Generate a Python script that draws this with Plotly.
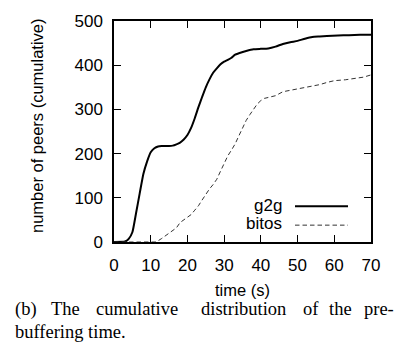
import plotly.graph_objects as go

# ---- data ----
g2g_t = [0, 3, 4, 5, 6, 7, 8, 9, 10, 11, 12, 13, 14, 15, 16, 17, 18, 19, 20, 21, 22, 23, 24, 25,
         26, 27, 28, 29, 30, 31, 32, 33, 34, 36, 38, 40, 42, 44, 46, 48, 50, 52, 54, 56, 58, 61,
         64, 67, 70]
g2g_v = [0, 1, 7, 22, 65, 110, 154, 182, 203, 212, 216, 217, 217, 217, 218, 221, 225, 232, 242,
         258, 280, 305, 328, 350, 368, 383, 393, 402, 408, 412, 417, 424, 427, 432, 436, 437, 438,
         442, 448, 452, 455, 460, 464, 465, 466, 467, 468, 469, 469]

bitos_t = [0, 11.5, 13, 15, 17, 18, 20, 21, 22, 23, 24, 25, 26, 27, 28, 29, 30, 31, 32, 33, 34,
           35, 36, 37, 38, 39, 40, 41, 42, 44, 46, 48, 50, 53, 56, 58, 60, 63, 65, 68, 70]
bitos_v = [0, 0, 8, 20, 32, 44, 55, 62, 72, 82, 95, 108, 120, 130, 142, 160, 178, 195, 208, 222,
           240, 258, 275, 288, 300, 312, 320, 325, 327, 331, 340, 343, 347, 351, 356, 361, 365,
           367, 369, 373, 378]

x_ticks = [0, 10, 20, 30, 40, 50, 60, 70]
y_ticks = [0, 100, 200, 300, 400, 500]
series_names = ["g2g", "bitos"]
x_title = "time (s)"
y_title = "number of peers (cumulative)"
caption_line1 = ["(b)", "The", "cumulative", "distribution", "of", "the", "pre-"]
caption_line2 = "buffering time."

# ---- layout geometry (pixels) ----
W, H = 411, 345
L, R, T, B = 114, 371, 19, 242
def px(x):
    return (x - L) / (R - L)
def py(y):
    return (B - y) / (B - T)

SANS = "Liberation Sans, Arial, sans-serif"
SERIF = "Liberation Serif, Times New Roman, serif"

fig = go.Figure()
fig.add_trace(go.Scatter(x=g2g_t, y=g2g_v, mode="lines", name=series_names[0],
                         line=dict(color="black", width=2, shape="spline", smoothing=0.5),
                         showlegend=False))
fig.add_trace(go.Scatter(x=bitos_t, y=bitos_v, mode="lines", name=series_names[1],
                         line=dict(color="#333333", width=1, dash="4.5px,3px"),
                         showlegend=False))

axis_common = dict(showgrid=False, zeroline=False, showline=True, linecolor="black",
                   linewidth=1.5, mirror="ticks", ticks="inside", ticklen=7, tickwidth=1.2,
                   tickcolor="black", tickfont=dict(family=SANS, size=17, color="black"))
fig.update_xaxes(range=[0, 70], tickvals=x_ticks, ticklabelstandoff=7, **axis_common)
fig.update_yaxes(range=[0, 500], tickvals=y_ticks, ticklabelstandoff=6, **axis_common)

ann = []
# axis titles
ann.append(dict(text=x_title, x=px(242), y=py(290), xref="paper", yref="paper",
                showarrow=False, font=dict(family=SANS, size=16.5, color="black"),
                xanchor="center", yanchor="middle"))
ann.append(dict(text=y_title, x=px(37), y=py(125), xref="paper", yref="paper",
                showarrow=False, textangle=-90, font=dict(family=SANS, size=16.5, color="black"),
                xanchor="center", yanchor="middle"))
# legend text
ann.append(dict(text=series_names[0], x=px(284), y=py(205), xref="paper", yref="paper",
                showarrow=False, font=dict(family=SANS, size=17, color="black"),
                xanchor="right", yanchor="middle"))
ann.append(dict(text=series_names[1], x=px(284), y=py(223), xref="paper", yref="paper",
                showarrow=False, font=dict(family=SANS, size=17, color="black"),
                xanchor="right", yanchor="middle"))
# caption, first line justified word by word
word_x = [13, 49, 94, 199, 301, 327, 362]
for w, xx in zip(caption_line1, word_x):
    ann.append(dict(text=w, x=px(xx), y=py(310), xref="paper", yref="paper",
                    showarrow=False, font=dict(family=SERIF, size=18.5, color="black"),
                    xanchor="left", yanchor="middle"))
ann.append(dict(text=caption_line2, x=px(13), y=py(333), xref="paper", yref="paper",
                showarrow=False, font=dict(family=SERIF, size=18.5, color="black"),
                xanchor="left", yanchor="middle"))

shapes = [
    dict(type="line", xref="paper", yref="paper", x0=px(295), x1=px(348), y0=py(206), y1=py(206),
         line=dict(color="black", width=2)),
    dict(type="line", xref="paper", yref="paper", x0=px(295), x1=px(348), y0=py(225), y1=py(225),
         line=dict(color="#333333", width=1, dash="4.5px,3px")),
]

fig.update_layout(width=W, height=H, margin=dict(l=L, r=W - R, t=T, b=H - B, pad=0),
                  paper_bgcolor="white", plot_bgcolor="white", annotations=ann, shapes=shapes,
                  showlegend=False)

fig.write_html("out.html", config={"displayModeBar": False},
               post_script="document.body.style.margin='0';document.body.style.overflow='hidden';")
